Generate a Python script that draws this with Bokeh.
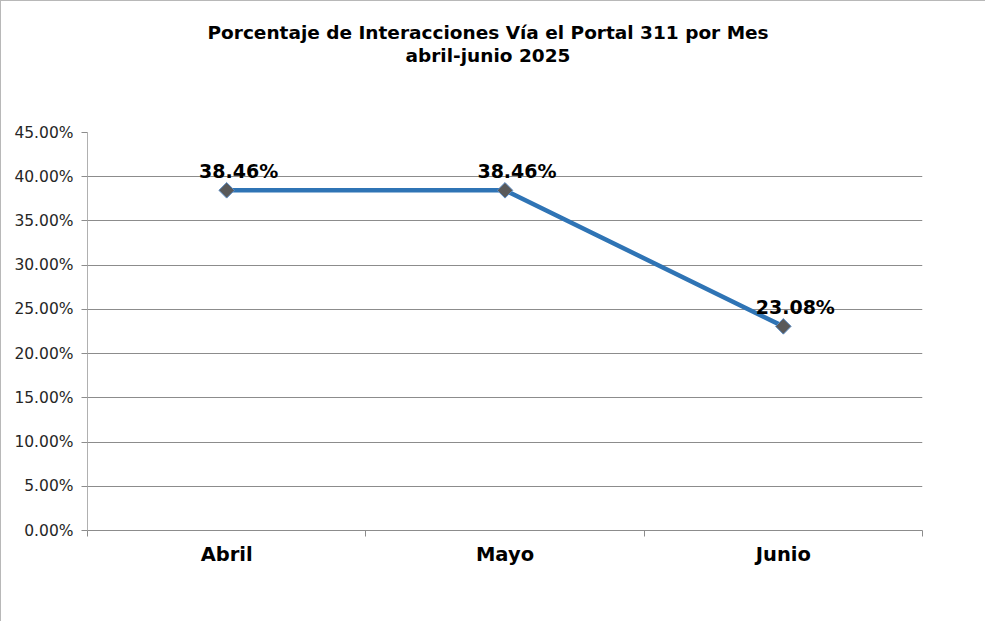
from bokeh.plotting import figure
from bokeh.models import Range1d, FixedTicker, NumeralTickFormatter, Title, ColumnDataSource, LabelSet
from bokeh.core.properties import value
from bokeh.embed import file_html
from bokeh.resources import INLINE

categories = ["Abril", "Mayo", "Junio"]
percentages = [0.3846, 0.3846, 0.2308]
point_labels = ["38.46%", "38.46%", "23.08%"]
y_ticks = [0.0, 0.05, 0.10, 0.15, 0.20, 0.25, 0.30, 0.35, 0.40, 0.45]
title_lines = ["Porcentaje de Interacciones Vía el Portal 311 por Mes", "abril-junio 2025"]

FONT = "DejaVu Sans"
xs = [i + 0.5 for i in range(len(categories))]

p = figure(width=985, height=621, output_backend="svg", toolbar_location=None,
           x_range=Range1d(0, len(categories)), y_range=Range1d(0, 0.45),
           min_border_left=86, min_border_right=64, min_border_top=131, min_border_bottom=92,
           styles={"border-top": "1px solid #b8b8b8", "border-left": "1px solid #b8b8b8"})
p.title.visible = False
p.outline_line_color = None
p.background_fill_color = "white"
p.border_fill_color = "white"

# titles (first added sits closest to the frame); a blank spacer lifts them
spacer = Title(text=" ", standoff=45, text_font=FONT, text_font_size="17px", text_color="white")
t2 = Title(text=title_lines[1], align="left", offset=318, standoff=0,
           text_font=FONT, text_font_style="bold", text_font_size="18.5px", text_color="black")
t1 = Title(text=title_lines[0], align="left", offset=120, standoff=0,
           text_font=FONT, text_font_style="bold", text_font_size="18.5px", text_color="black")
p.add_layout(spacer, "above")
p.add_layout(t2, "above")
p.add_layout(t1, "above")

# grid
p.xgrid.grid_line_color = None
p.ygrid.ticker = FixedTicker(ticks=y_ticks)
p.ygrid.grid_line_color = "#8c8c8c"
p.ygrid.grid_line_width = 1

# y axis
p.yaxis.ticker = FixedTicker(ticks=y_ticks)
p.yaxis.formatter = NumeralTickFormatter(format="0.00%")
p.yaxis.major_label_text_font = FONT
p.yaxis.major_label_text_font_size = "15.5px"
p.yaxis.major_label_text_color = "#262626"
p.yaxis.axis_line_color = "#b0b0b0"
p.yaxis.major_tick_line_color = "#8c8c8c"
p.yaxis.major_tick_out = 6
p.yaxis.major_tick_in = 0
p.yaxis.minor_tick_line_color = None
p.yaxis.major_label_standoff = 8

# x axis
p.xaxis.ticker = FixedTicker(ticks=xs, minor_ticks=list(range(len(categories) + 1)))
p.xaxis.major_label_overrides = {x: c for x, c in zip(xs, categories)}
p.xaxis.major_tick_line_color = None
p.xaxis.minor_tick_line_color = "#8c8c8c"
p.xaxis.minor_tick_out = 6
p.xaxis.minor_tick_in = 0
p.xaxis.axis_line_color = "#8c8c8c"
p.xaxis.major_label_text_font = FONT
p.xaxis.major_label_text_font_style = "bold"
p.xaxis.major_label_text_font_size = "19.5px"
p.xaxis.major_label_text_color = "black"
p.xaxis.major_label_standoff = 6

src = ColumnDataSource(dict(x=xs, y=percentages, lab=point_labels))
p.line("x", "y", source=src, line_color="#2f74b5", line_width=4.5)
p.scatter("x", "y", source=src, marker="square", angle=0.785398, size=11,
          fill_color="#595959", line_color="#5b8cc4", line_width=1)

labels = LabelSet(x="x", y="y", text="lab", source=src, x_offset=12, y_offset=8,
                  text_align="center", text_baseline="bottom",
                  text_font=value(FONT), text_font_style="bold", text_font_size="19px",
                  text_color="black")
p.add_layout(labels)

open("out.html", "w").write(file_html(p, INLINE))
